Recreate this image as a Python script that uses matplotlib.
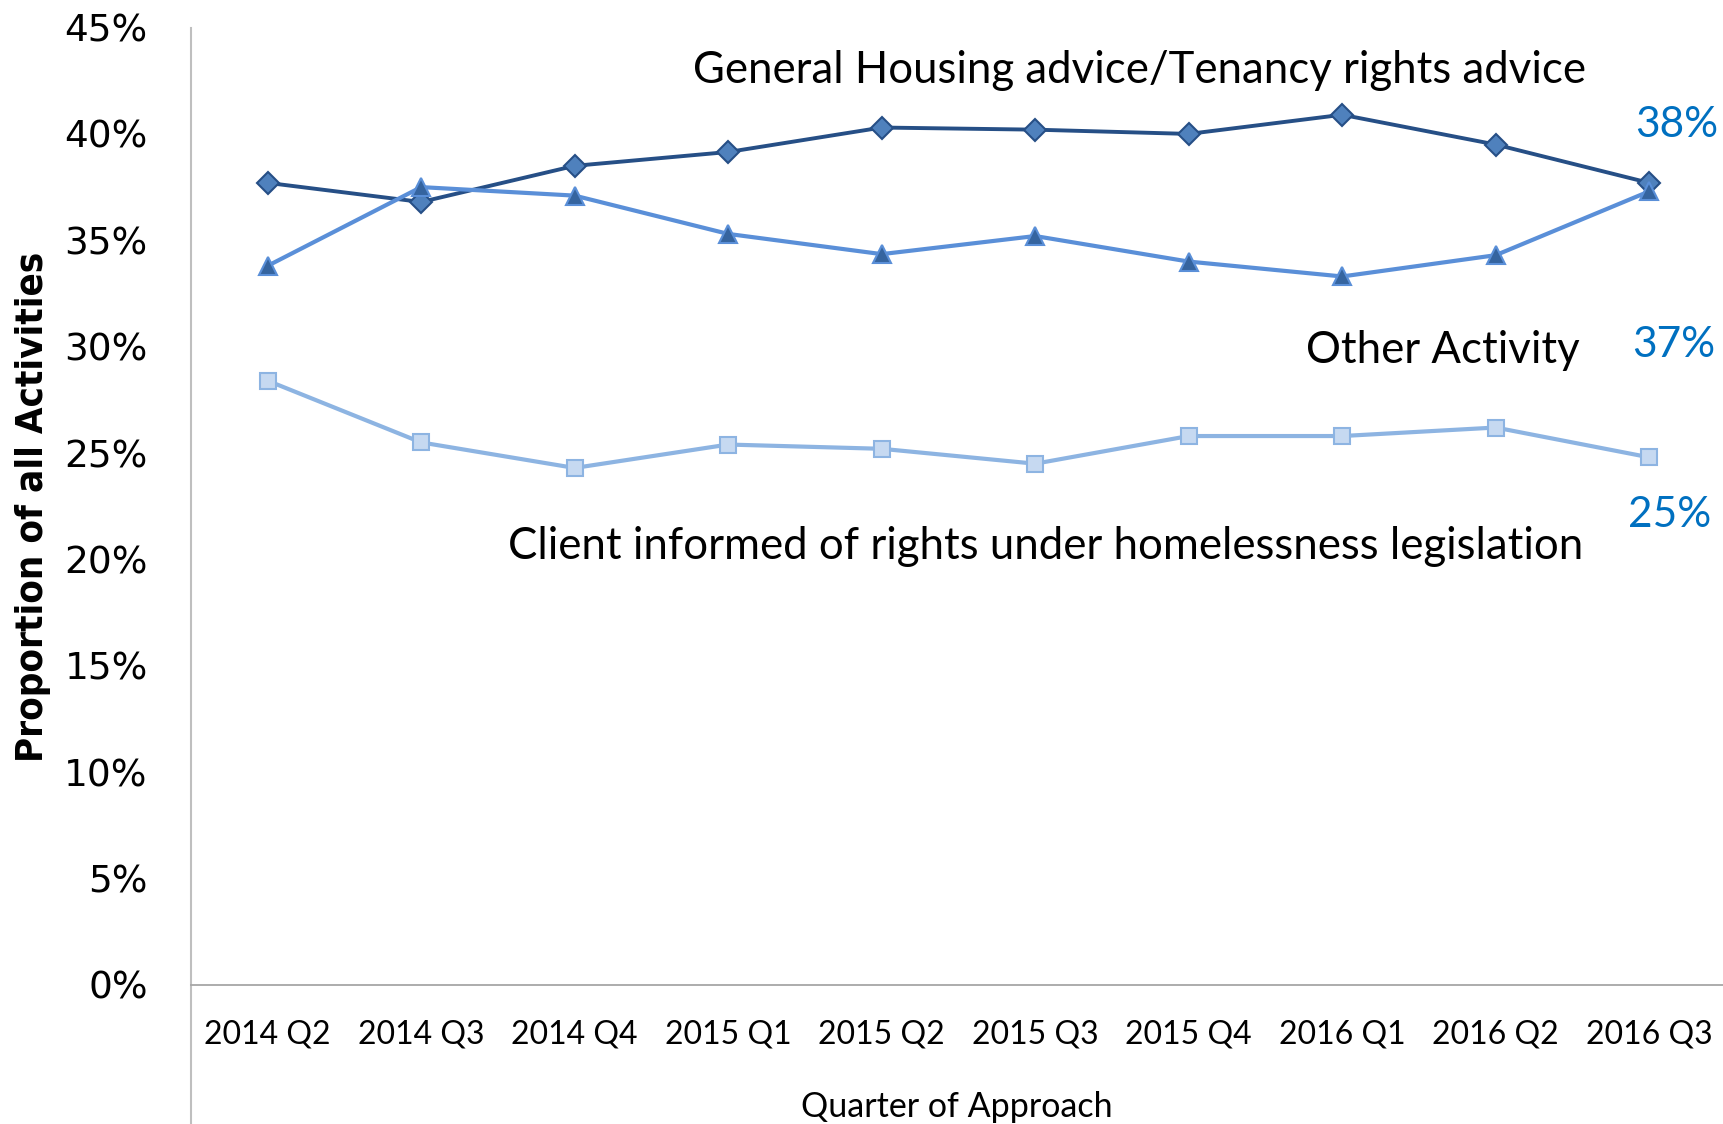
import matplotlib
matplotlib.use("Agg")
import matplotlib.pyplot as plt
from matplotlib import font_manager
from matplotlib.ticker import PercentFormatter

quarters = ["2014 Q2", "2014 Q3", "2014 Q4", "2015 Q1", "2015 Q2",
            "2015 Q3", "2015 Q4", "2016 Q1", "2016 Q2", "2016 Q3"]
general_housing = [0.377, 0.368, 0.385, 0.3915, 0.403, 0.402, 0.400, 0.409, 0.395, 0.377]
other_activity = [0.338, 0.375, 0.371, 0.353, 0.3435, 0.352, 0.340, 0.333, 0.343, 0.373]
client_informed = [0.284, 0.255, 0.243, 0.254, 0.252, 0.245, 0.258, 0.258, 0.262, 0.248]

series_labels = ["General Housing advice/Tenancy rights advice",
                 "Other Activity",
                 "Client informed of rights under homelessness legislation"]
end_labels = ["38%", "37%", "25%"]

avail = {f.name for f in font_manager.fontManager.ttflist}
main_font = "Lato" if "Lato" in avail else "DejaVu Sans"
cond_available = any(f.name == "DejaVu Sans" and f.stretch == "condensed" and f.weight in ("bold", 700)
                     for f in font_manager.fontManager.ttflist)
if cond_available:
    ylab_font = dict(family="DejaVu Sans", stretch="condensed", weight="bold")
else:
    ylab_font = dict(family=main_font, weight="bold")

fig = plt.figure(figsize=(17.23, 11.24), dpi=100)
ax = fig.add_axes([0.1108, 0.1237, 0.8909, 0.8518])

x = list(range(len(quarters)))

ax.plot(x, general_housing, color="#264F86", lw=2.8, marker="D", markersize=11,
        markerfacecolor="#4F81BD", markeredgecolor="#264F86", markeredgewidth=1.5, zorder=3)
ax.plot(x, other_activity, color="#5A8FD8", lw=3.0, marker="^", markersize=13,
        markerfacecolor="#35649F", markeredgecolor="#5A8FD8", markeredgewidth=1.5, zorder=4)
ax.plot(x, client_informed, color="#8DB4E2", lw=3.0, marker="s", markersize=12,
        markerfacecolor="#C6D9F1", markeredgecolor="#8DB4E2", markeredgewidth=1.5, zorder=3)

ax.set_xlim(-0.5, 9.5)
ax.set_ylim(0, 0.45)
ax.set_yticks([i * 0.05 for i in range(10)])
ax.yaxis.set_major_formatter(PercentFormatter(1.0, decimals=0))
ax.set_xticks(x)
ax.set_xticklabels(quarters, fontsize=23, family=main_font)
for lab in ax.get_yticklabels():
    lab.set_fontsize(27)
    lab.set_family("DejaVu Sans")
ax.tick_params(axis="both", length=0)
ax.tick_params(axis="x", pad=25)
ax.tick_params(axis="y", pad=31)

for s in ["top", "right", "left"]:
    ax.spines[s].set_visible(False)
ax.spines["bottom"].set_color("#A6A6A6")
ax.spines["bottom"].set_linewidth(1.3)
# left axis line extends below the horizontal axis
ax.plot([0, 0], [1.0, -0.16], transform=ax.transAxes,
        color="#BFBFBF", lw=1.5, clip_on=False)

# y-axis title, sized to span the same length as in the reference
ylab = fig.text(33 / 1723, 1 - 507 / 1124, "Proportion of all Activities", rotation=90,
                ha="center", va="center", fontsize=30, **ylab_font)
fig.canvas.draw()
r = fig.canvas.get_renderer()
h = ylab.get_window_extent(r).height
ylab.set_fontsize(30 * 509.0 / h)

fig.text(957 / 1723, 1 - 1107 / 1124, "Quarter of Approach", ha="center", va="center",
         fontsize=24.5, family=main_font)

txt_kw = dict(fontsize=31.5, family=main_font, color="black", ha="right", va="center")
ax.text(8.59, 0.430, series_labels[0], **txt_kw)
ax.text(8.55, 0.298, series_labels[1], **txt_kw)
ax.text(8.57, 0.206, series_labels[2], **txt_kw)

lab_kw = dict(fontsize=30.5, family=main_font, color="#0070C0", ha="center", va="center")
ax.text(9.18, 0.404, end_labels[0], **lab_kw)
ax.text(9.16, 0.3006, end_labels[1], **lab_kw)
ax.text(9.13, 0.221, end_labels[2], **lab_kw)

fig.savefig("out.png", dpi=100)
